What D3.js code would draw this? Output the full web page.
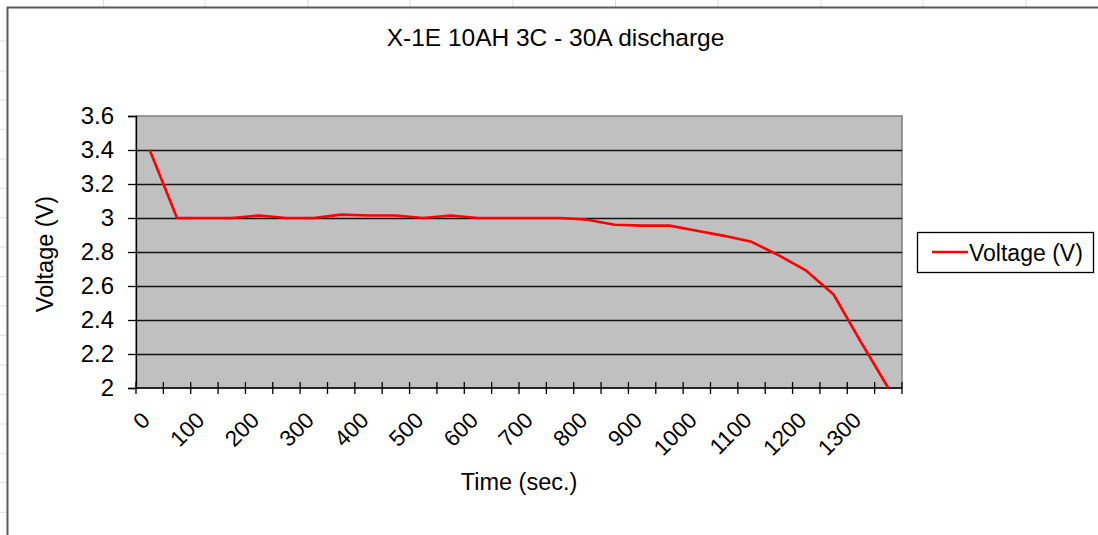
<!DOCTYPE html>
<html>
<head>
<meta charset="utf-8">
<script src="https://cdn.jsdelivr.net/npm/d3@7"></script>
<style>
  html, body { margin: 0; padding: 0; background: #fff; }
  svg { display: block; font-family: "Liberation Sans", Arial, sans-serif; }
</style>
</head>
<body>
<svg id="chart" width="1098" height="535"></svg>
<script>
// ---- data ----
const times = [0, 50, 100, 150, 200, 250, 300, 350, 400, 450, 500, 550, 600, 650,
               700, 750, 800, 850, 900, 950, 1000, 1050, 1100, 1150, 1200, 1250, 1300, 1350];
const voltage = [3.4, 3.0, 3.0, 3.0, 3.015, 3.0, 3.0, 3.02, 3.015, 3.015, 3.0, 3.015, 3.0, 3.0,
                 3.0, 3.0, 2.99, 2.96, 2.955, 2.955, 2.925, 2.895, 2.86, 2.78, 2.69, 2.55, 2.27, 2.0];
const xTickLabels = [0, 100, 200, 300, 400, 500, 600, 700, 800, 900, 1000, 1100, 1200, 1300];
const yTicks = [2, 2.2, 2.4, 2.6, 2.8, 3, 3.2, 3.4, 3.6];
const title = "X-1E 10AH 3C - 30A discharge";
const xTitle = "Time (sec.)";
const yTitle = "Voltage (V)";
const seriesName = "Voltage (V)";

// ---- layout ----
const svg = d3.select("#chart");
const plot = { left: 136, right: 902, top: 116, bottom: 388 };

// sheet background hints (Excel grid behind the chart)
const bg = svg.append("g");
[103.6, 205, 308, 410, 513, 615.5, 718, 821, 923, 1026].forEach(x => {
  bg.append("line").attr("x1", x).attr("x2", x).attr("y1", 0).attr("y2", 7)
    .attr("stroke", "#d8dce6").attr("stroke-width", 1);
});
[129.3, 159, 188.3, 217.7, 247, 276.7, 306, 335.3, 365, 394.7, 424, 453.3, 482.7, 512.3, 41, 71, 100].forEach(y => {
  bg.append("line").attr("x1", 0).attr("x2", 7).attr("y1", y).attr("y2", y)
    .attr("stroke", "#d8dce6").attr("stroke-width", 1);
});
// chart area border (left & top visible)
svg.append("path").attr("d", "M7.5,535 L7.5,7.5 L1098,7.5")
  .attr("fill", "none").attr("stroke", "#5a5a5a").attr("stroke-width", 2);

const x = d3.scaleBand().domain(times).range([plot.left, plot.right]).padding(0);
const y = d3.scaleLinear().domain([2, 3.6]).range([plot.bottom, plot.top]);
const cx = t => x(t) + x.bandwidth() / 2;

// plot area
svg.append("rect")
  .attr("x", plot.left).attr("y", plot.top)
  .attr("width", plot.right - plot.left).attr("height", plot.bottom - plot.top)
  .attr("fill", "#c0c0c0").attr("stroke", "#808080").attr("stroke-width", 1.5);

// gridlines
svg.append("g").selectAll("line")
  .data(yTicks.filter(v => v > 2 && v < 3.6))
  .join("line")
  .attr("x1", plot.left).attr("x2", plot.right)
  .attr("y1", d => Math.round(y(d)) + 0.5).attr("y2", d => Math.round(y(d)) + 0.5)
  .attr("stroke", "#111").attr("stroke-width", 1.3);

// y axis
const yAxis = d3.axisLeft(y).tickValues(yTicks).tickSize(8).tickPadding(14)
  .tickFormat(d => d3.format("")(Math.round(d * 10) / 10));
const gy = svg.append("g").attr("transform", `translate(${plot.left},0)`).call(yAxis);
gy.select(".domain").attr("stroke", "#000").attr("stroke-width", 1.3);
gy.selectAll(".tick line").attr("stroke", "#000").attr("stroke-width", 1.3);
gy.selectAll(".tick text").attr("font-size", "24px").attr("fill", "#000")
  .attr("font-family", "'Liberation Sans', Arial, sans-serif");

// x axis: ticks at category boundaries crossing the axis
const boundaries = times.map(t => x(t)).concat([plot.right]);
svg.append("line").attr("x1", plot.left).attr("x2", plot.right)
  .attr("y1", plot.bottom).attr("y2", plot.bottom)
  .attr("stroke", "#000").attr("stroke-width", 1.5);
svg.append("g").selectAll("line").data(boundaries).join("line")
  .attr("x1", d => d).attr("x2", d => d)
  .attr("y1", plot.bottom - 6).attr("y2", plot.bottom + 6)
  .attr("stroke", "#000").attr("stroke-width", 1.3);

// x tick labels rotated -45
svg.append("g").selectAll("text").data(xTickLabels).join("text")
  .attr("transform", d => `translate(${cx(d) - 4},${plot.bottom + 28}) rotate(-45)`)
  .attr("text-anchor", "end")
  .attr("dy", "0.35em")
  .attr("font-size", "22.5px")
  .attr("fill", "#000")
  .text(d => d);

// line
svg.append("path")
  .datum(times.map((t, i) => [t, voltage[i]]))
  .attr("fill", "none").attr("stroke", "#ff0000").attr("stroke-width", 2.6)
  .attr("stroke-linejoin", "round")
  .attr("d", d3.line().x(d => cx(d[0])).y(d => y(d[1])));

// titles
svg.append("text").attr("x", 555.5).attr("y", 46).attr("text-anchor", "middle")
  .attr("font-size", "24.5px").attr("fill", "#000").text(title);
svg.append("text").attr("x", 519).attr("y", 490).attr("text-anchor", "middle")
  .attr("font-size", "23.5px").attr("fill", "#000").text(xTitle);
svg.append("text").attr("transform", "translate(53,254) rotate(-90)")
  .attr("text-anchor", "middle").attr("font-size", "23.5px").attr("fill", "#000").text(yTitle);

// legend
const lg = svg.append("g");
lg.append("rect").attr("x", 917.5).attr("y", 232.5).attr("width", 176).attr("height", 40)
  .attr("fill", "#fff").attr("stroke", "#000").attr("stroke-width", 1.3);
lg.append("line").attr("x1", 932).attr("x2", 968).attr("y1", 252).attr("y2", 252)
  .attr("stroke", "#ff0000").attr("stroke-width", 2.6);
lg.append("text").attr("x", 969).attr("y", 261).attr("font-size", "23px").attr("fill", "#000")
  .text(seriesName);
</script>
</body>
</html>
